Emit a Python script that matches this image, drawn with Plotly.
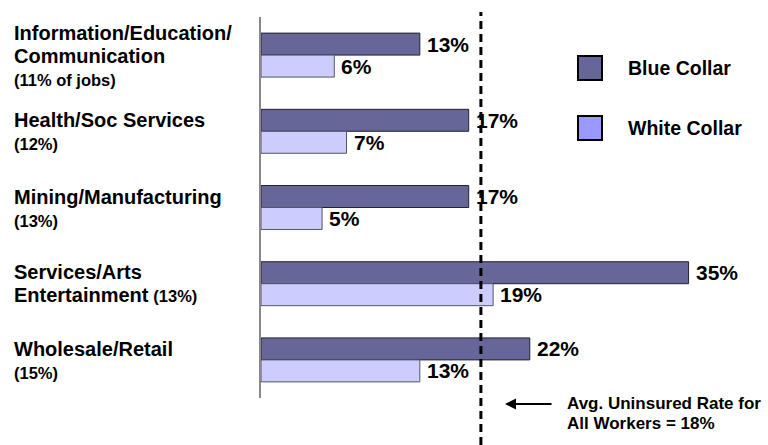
import plotly.graph_objects as go

# Uninsured rates (%) by industry and collar type
industry_lines = [
    ["Information/Education/", "Communication"],
    ["Health/Soc Services"],
    ["Mining/Manufacturing"],
    ["Services/Arts", "Entertainment"],
    ["Wholesale/Retail"],
]
job_share = ["(11% of jobs)", "(12%)", "(13%)", "(13%)", "(15%)"]
share_inline = [False, False, False, True, False]
blue_collar = [13, 17, 17, 35, 22]
white_collar = [6, 7, 5, 19, 13]
avg_rate = 18
series_names = ["Blue Collar", "White Collar"]

FONT = "Arial, Liberation Sans, sans-serif"
W, H = 768, 445
ML, MR, MT, MB = 261, 0, 17, 47
PW, PH = W - ML - MR, H - MT - MB


def px_x(px):
    return (px - ML) / PW


def px_y(py):
    return (H - MB - py) / PH


cats = [" ".join(l) for l in industry_lines]

fig = go.Figure()
annotations = []
for name, vals, fill, edge, shift in [
    (series_names[0], blue_collar, "#666699", "#222233", 11),
    (series_names[1], white_collar, "#CCCCFF", "#555566", -11),
]:
    fig.add_trace(go.Bar(
        y=cats, x=vals, orientation="h", name=name,
        marker=dict(color=fill, line=dict(color=edge, width=1)),
        showlegend=False,
    ))
    # value labels just right of each bar end
    for c, v in zip(cats, vals):
        annotations.append(dict(
            xref="x", yref="y", x=v, y=c, text=f"{v}%", showarrow=False,
            xanchor="left", yanchor="middle", xshift=5, yshift=shift,
            font=dict(family=FONT, size=21, color="black", weight="bold"),
        ))

# category labels
for cat, lines, share, inline in zip(cats, industry_lines, job_share, share_inline):
    big = [f'<span style="font-size:20px">{t}</span>' for t in lines]
    small = f'<span style="font-size:16.5px">{share}</span>'
    if inline:
        big[-1] = big[-1] + " " + small
    else:
        big.append(small)
    annotations.append(dict(
        xref="paper", yref="y", x=px_x(12), y=cat, text="<br>".join(big),
        xanchor="left", yanchor="middle", align="left", showarrow=False,
        font=dict(family=FONT, size=17.5, color="black", weight="bold"),
    ))

# legend
legend_fill = ["#666699", "#9999FF"]
legend_y = [68, 128]
shapes = []
for name, col, cy in zip(series_names, legend_fill, legend_y):
    shapes.append(dict(
        type="rect", xref="paper", yref="paper",
        x0=px_x(578), x1=px_x(602), y0=px_y(cy + 12), y1=px_y(cy - 12),
        fillcolor=col, line=dict(color="black", width=2),
    ))
    annotations.append(dict(
        xref="paper", yref="paper", x=px_x(626), y=px_y(cy), text=name,
        xanchor="left", yanchor="middle", showarrow=False,
        font=dict(family=FONT, size=19.5, color="black", weight="bold"),
    ))

# average rate line
shapes.append(dict(
    type="line", xref="x", yref="paper", x0=avg_rate, x1=avg_rate,
    y0=px_y(H), y1=px_y(12),
    line=dict(color="black", width=3, dash="8px,5px"),
))

# average note with arrow
annotations.append(dict(
    xref="paper", yref="paper", x=px_x(505), y=px_y(404), text="",
    showarrow=True, ax=48, ay=0, arrowhead=2, arrowsize=1.1, arrowwidth=2,
    arrowcolor="black",
))
note_lines = ["Avg. Uninsured Rate for", f"All Workers = {avg_rate}%"]
annotations.append(dict(
    xref="paper", yref="paper", x=px_x(565), y=px_y(413),
    text="<br>".join(f'<span style="font-size:17px">{t}</span>' for t in note_lines),
    xanchor="left", yanchor="middle", align="left", showarrow=False,
    font=dict(family=FONT, size=15.4, color="black", weight="bold"),
))

fig.update_layout(
    width=W, height=H, margin=dict(l=ML, r=MR, t=MT, b=MB),
    paper_bgcolor="white", plot_bgcolor="white",
    barmode="group", bargap=0.423, bargroupgap=0,
    xaxis=dict(range=[0, 41.5], visible=False, showgrid=False, zeroline=False),
    yaxis=dict(autorange="reversed", showticklabels=False, showgrid=False,
               ticks="", showline=True, linecolor="#888888", linewidth=2,
               zeroline=False),
    annotations=annotations, shapes=shapes, showlegend=False,
)

fig.write_html("out.html")
